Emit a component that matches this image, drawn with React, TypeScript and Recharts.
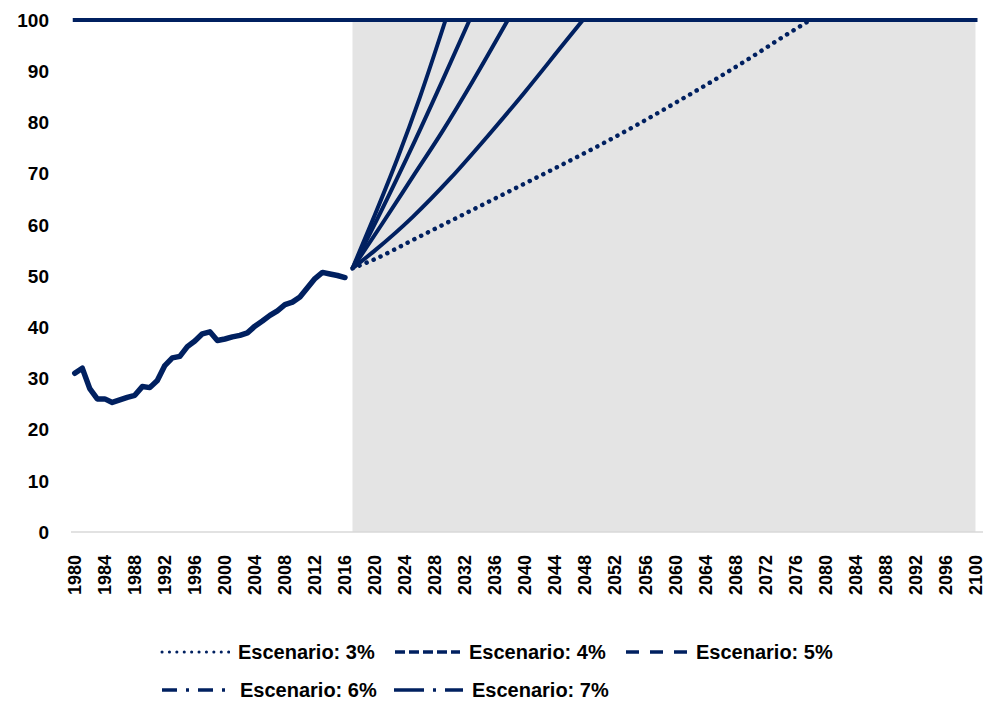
import React from 'react';
import { ComposedChart, Line, Area, XAxis, YAxis, Legend } from 'recharts';

// Historical series (1980-2016)
const histYears = [1980,1981,1982,1983,1984,1985,1986,1987,1988,1989,1990,1991,1992,1993,1994,1995,1996,1997,1998,1999,2000,2001,2002,2003,2004,2005,2006,2007,2008,2009,2010,2011,2012,2013,2014,2015,2016];
const histValues = [31,32,28,26,26,25.3,25.8,26.3,26.7,28.4,28.2,29.6,32.5,34,34.3,36.2,37.3,38.7,39.1,37.4,37.7,38.1,38.4,38.9,40.2,41.2,42.3,43.2,44.4,44.9,45.9,47.7,49.5,50.7,50.4,50.1,49.7];

// Scenario paths (year, value)
const s3Years = [2017,2020,2025,2030,2035,2040,2045,2050,2055,2060,2065,2070,2075,2078];
const s3Values = [51.5,53.3,57.0,60.7,64.4,68.1,71.8,75.6,79.6,83.8,88.1,92.6,97.3,100];
const s4Years = [2017,2020,2025,2030,2035,2040,2045,2047.7];
const s4Values = [51.5,55.0,61.5,69.0,77.3,86.0,95.1,100];
const s5Years = [2017,2021,2025,2029,2033,2037.7];
const s5Values = [51.5,60.3,69.3,78.3,88.0,100];
const s6Years = [2017,2021,2025,2029,2032.6];
const s6Values = [51.5,63.2,75.4,88.2,100];
const s7Years = [2017,2020,2023,2026,2029.4];
const s7Values = [51.5,62.0,73.0,85.0,100];

// Ceiling line and projection shading
const capYears = [1980, 2100];
const capValues = [100, 100];
const shadeYears = [2017, 2100];
const shadeValues = [100, 100];

const xTicks = [1980,1984,1988,1992,1996,2000,2004,2008,2012,2016,2020,2024,2028,2032,2036,2040,2044,2048,2052,2056,2060,2064,2068,2072,2076,2080,2084,2088,2092,2096,2100];
const yTicks = [0,10,20,30,40,50,60,70,80,90,100];

const seriesNames = ['Escenario: 3%','Escenario: 4%','Escenario: 5%','Escenario: 6%','Escenario: 7%'];

const zip = (ys: number[], vs: number[]) => ys.map((y, i) => ({ year: y, v: vs[i] }));

const NAVY = '#002060';
const FONT = '"Liberation Sans", Arial, sans-serif';

const legendLayout = [
  { left: 160, top: 22, iconW: 70, dash: '0.1 7.3', cap: 'round', sw: 3 },
  { left: 393, top: 22, iconW: 68, dash: '10 4', cap: 'butt', sw: 3.5 },
  { left: 624, top: 22, iconW: 64, dash: '13 11', cap: 'butt', sw: 3.5 },
  { left: 160, top: 60, iconW: 72, dash: '15 9 3 9', cap: 'butt', sw: 3.5 },
  { left: 392, top: 60, iconW: 72, dash: '30 9 3 9', cap: 'butt', sw: 3.5 },
];

const LegendContent = () => (
  <div style={{ position: 'relative', width: 989, height: 71, fontFamily: FONT, fontWeight: 'bold', fontSize: 20, color: '#000' }}>
    {seriesNames.map((name, i) => {
      const l = legendLayout[i];
      return (
        <div key={name} style={{ position: 'absolute', left: l.left, top: l.top - 12, height: 24, display: 'flex', alignItems: 'center', whiteSpace: 'nowrap' }}>
          <svg width={l.iconW} height={8} style={{ display: 'block' }}>
            <line x1={2} y1={4} x2={l.iconW - 1} y2={4} stroke={NAVY} strokeWidth={l.sw} strokeDasharray={l.dash} strokeLinecap={l.cap as any} />
          </svg>
          <span style={{ marginLeft: 8 }}>{name}</span>
        </div>
      );
    })}
  </div>
);

const XTick = (props: any) => {
  const { x, y, payload } = props;
  return (
    <text x={x} y={y} transform={`rotate(-90 ${x} ${y})`} textAnchor="end" dy="0.35em" fontFamily={FONT} fontWeight="bold" fontSize={18} fill="#000">
      {payload.value}
    </text>
  );
};

export default function App() {
  return (
    <div style={{ position: 'absolute', left: 0, top: 0, width: 989, height: 701, background: '#fff' }}>
      <ComposedChart width={989} height={701} margin={{ top: 20, right: 6, bottom: 0, left: 0 }}>
        <XAxis
          type="number"
          dataKey="year"
          domain={[1979.5, 2100.5]}
          ticks={xTicks}
          interval={0}
          allowDecimals={false}
          height={169}
          tickLine={false}
          tickSize={0}
          tickMargin={23}
          tick={<XTick />}
          axisLine={{ stroke: '#D9D9D9', strokeWidth: 1.5 }}
        />
        <YAxis
          type="number"
          domain={[0, 100]}
          ticks={yTicks}
          interval={0}
          width={71}
          axisLine={false}
          tickLine={false}
          tickSize={0}
          tickMargin={22}
          tick={{ fill: '#000', fontSize: 19, fontWeight: 'bold', fontFamily: FONT }}
        />
        <Area data={zip(shadeYears, shadeValues)} dataKey="v" type="linear" stroke="none" fill="#E4E4E4" fillOpacity={1} isAnimationActive={false} legendType="none" />
        <Line data={zip(capYears, capValues)} dataKey="v" type="linear" stroke={NAVY} strokeWidth={4} strokeLinecap="square" dot={false} isAnimationActive={false} legendType="none" />
        <Line data={zip(s3Years, s3Values)} dataKey="v" name={seriesNames[0]} type="monotone" stroke={NAVY} strokeWidth={4.5} strokeDasharray="0.1 7.5" strokeLinecap="round" dot={false} isAnimationActive={false} />
        <Line data={zip(s4Years, s4Values)} dataKey="v" name={seriesNames[1]} type="monotone" stroke={NAVY} strokeWidth={4} dot={false} isAnimationActive={false} />
        <Line data={zip(s5Years, s5Values)} dataKey="v" name={seriesNames[2]} type="monotone" stroke={NAVY} strokeWidth={4} dot={false} isAnimationActive={false} />
        <Line data={zip(s6Years, s6Values)} dataKey="v" name={seriesNames[3]} type="monotone" stroke={NAVY} strokeWidth={4} dot={false} isAnimationActive={false} />
        <Line data={zip(s7Years, s7Values)} dataKey="v" name={seriesNames[4]} type="monotone" stroke={NAVY} strokeWidth={4} dot={false} isAnimationActive={false} />
        <Line data={zip(histYears, histValues)} dataKey="v" type="linear" stroke={NAVY} strokeWidth={5.5} strokeLinejoin="round" strokeLinecap="round" dot={false} isAnimationActive={false} legendType="none" />
        <Legend
          layout="horizontal"
          verticalAlign="middle"
          align="center"
          content={<LegendContent />}
          wrapperStyle={{ left: 0, top: 630, width: 989, height: 71 }}
        />
      </ComposedChart>
    </div>
  );
}
